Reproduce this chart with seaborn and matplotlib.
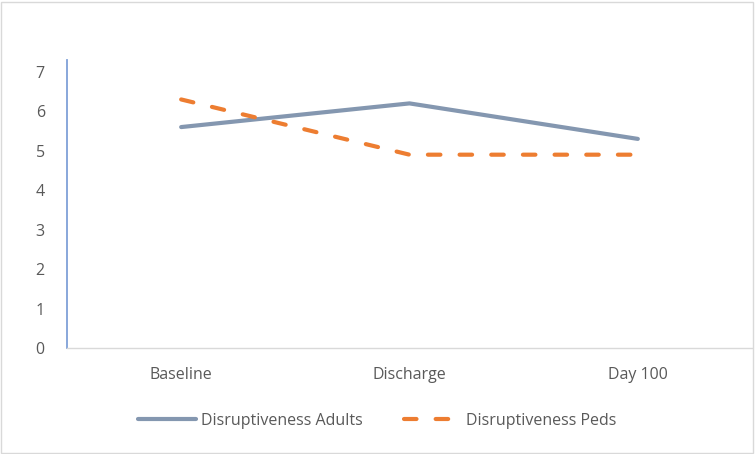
import matplotlib.pyplot as plt
import pandas as pd
import seaborn as sns
from matplotlib.patches import Rectangle

# data
timepoints = ['Baseline', 'Discharge', 'Day 100']
adults = [5.6, 6.2, 5.3]
peds = [6.3, 4.9, 4.9]

df = pd.DataFrame({
    'time': timepoints * 2,
    'value': adults + peds,
    'group': ['Disruptiveness Adults'] * 3 + ['Disruptiveness Peds'] * 3,
})

sns.set_style('white')
plt.rcParams['font.family'] = ['Open Sans', 'DejaVu Sans']
plt.rcParams['lines.dash_capstyle'] = 'round'
plt.rcParams['lines.solid_capstyle'] = 'round'
text_col = '#595959'
dash = (3.0, 4.6)

fig = plt.figure(figsize=(7.55, 4.54), dpi=100)
ax = fig.add_axes([67 / 755, 1 - 348 / 454, 685 / 755, 288 / 454])

sns.lineplot(data=df, x='time', y='value', hue='group', style='group',
             palette=['#8497B0', '#ED7D31'],
             dashes={'Disruptiveness Adults': '', 'Disruptiveness Peds': dash},
             linewidth=3.0, ax=ax, legend=False)

ax.set_xlim(-0.5, 2.5)
ax.set_ylim(0, 7.3)
ax.set_yticks(range(0, 8))
ax.set_xlabel('')
ax.set_ylabel('')
ax.tick_params(axis='both', length=0, labelsize=11.5, colors=text_col)
ax.tick_params(axis='y', pad=16)
ax.tick_params(axis='x', pad=14)

for s in ['top', 'right']:
    ax.spines[s].set_visible(False)
ax.spines['left'].set_color('#7FA0D8')
ax.spines['left'].set_linewidth(1.3)
ax.spines['bottom'].set_color('#D9D9D9')
ax.spines['bottom'].set_linewidth(1.0)

handles = [
    plt.Line2D([], [], color='#8497B0', lw=3.0),
    plt.Line2D([], [], color='#ED7D31', lw=3.0, dashes=dash),
]
fig.legend(handles, ['Disruptiveness Adults', 'Disruptiveness Peds'],
           loc='center', bbox_to_anchor=(0.5, 1 - 421 / 454), ncol=2,
           frameon=False, fontsize=11.5, labelcolor=text_col,
           handlelength=3.6, handletextpad=0.3, columnspacing=2.6)

# outer chart border
fig.patches.append(Rectangle((1 / 755, 1 / 454), 752 / 755, 451 / 454,
                             transform=fig.transFigure, fill=False,
                             edgecolor='#D9D9D9', lw=1))

fig.savefig('out.png', dpi=100)
